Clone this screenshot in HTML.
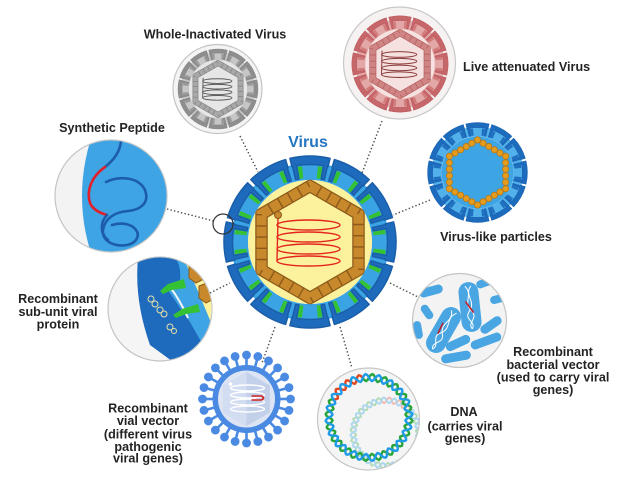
<!DOCTYPE html>
<html><head><meta charset="utf-8"><style>
html,body{margin:0;padding:0;background:#fff;}
svg{display:block;}
text{font-family:"Liberation Sans",Arial,sans-serif;font-weight:bold;font-size:12.6px;fill:#232323;}
</style></head><body>
<svg width="633" height="486" viewBox="0 0 633 486" xmlns="http://www.w3.org/2000/svg">
<defs>
<path id="capu" d="M-20.08,-83.62 L-18.09,-75.36 L-17.44,-75.52 L-14.40,-62.36 L-11.11,-63.03 L-13.46,-76.32 A77.5,77.5 0 0 1 13.46,-76.32 L11.11,-63.03 L14.40,-62.36 L17.44,-75.52 L18.09,-75.36 L20.08,-83.62 A86,86 0 0 0 -20.08,-83.62 Z"/>
<g id="greenu"><polygon points="6.7,-63.6 10.3,-63.1 12.4,-75.0 7.9,-75.6"/><polygon points="-6.7,-63.6 -10.3,-63.1 -12.4,-75.0 -7.9,-75.6"/></g>
<g id="caps">
<use href="#capu"/><use href="#capu" transform="rotate(30)"/><use href="#capu" transform="rotate(60)"/><use href="#capu" transform="rotate(90)"/>
<use href="#capu" transform="rotate(120)"/><use href="#capu" transform="rotate(150)"/><use href="#capu" transform="rotate(180)"/><use href="#capu" transform="rotate(210)"/>
<use href="#capu" transform="rotate(240)"/><use href="#capu" transform="rotate(270)"/><use href="#capu" transform="rotate(300)"/><use href="#capu" transform="rotate(330)"/>
</g>
<g id="greens">
<use href="#greenu"/><use href="#greenu" transform="rotate(30)"/><use href="#greenu" transform="rotate(60)"/><use href="#greenu" transform="rotate(90)"/>
<use href="#greenu" transform="rotate(120)"/><use href="#greenu" transform="rotate(150)"/><use href="#greenu" transform="rotate(180)"/><use href="#greenu" transform="rotate(210)"/>
<use href="#greenu" transform="rotate(240)"/><use href="#greenu" transform="rotate(270)"/><use href="#greenu" transform="rotate(300)"/><use href="#greenu" transform="rotate(330)"/>
</g>
<polygon id="hex" points="0,-56 48.5,-28 48.5,28 0,56 -48.5,28 -48.5,-28"/>
<g id="coil">
<ellipse cx="-1.5" cy="-17" rx="31.5" ry="5"/>
<ellipse cx="-1.5" cy="-5" rx="31.5" ry="5"/>
<ellipse cx="-1.5" cy="7" rx="31.5" ry="5"/>
<ellipse cx="-1.5" cy="19" rx="31.5" ry="5"/>
<path d="M-32,-24 L-33,19"/>
</g>
<g id="vsp"><rect x="-1.3" y="-42" width="2.6" height="9"/><circle cy="-44" r="4.4"/></g>
<polyline id="sa" points="-6.26,-39.51 -4.99,-42.18 -3.41,-43.37 -1.67,-42.44 0,-40 1.47,-37.50 2.86,-36.39 4.41,-37.27 6.26,-39.51"/>
<polyline id="sb" points="-6.26,-39.51 -4.41,-37.27 -2.86,-36.39 -1.47,-37.50 0,-40 1.67,-42.44 3.41,-43.37 4.99,-42.18 6.26,-39.51"/>
<g id="dna" fill="none" stroke-width="2.4" stroke-linejoin="round">
<g stroke="#27a53b">
<use href="#sb"/><use href="#sb" transform="rotate(18)"/><use href="#sb" transform="rotate(36)"/><use href="#sb" transform="rotate(54)"/><use href="#sb" transform="rotate(72)"/>
<use href="#sb" transform="rotate(90)"/><use href="#sb" transform="rotate(108)"/><use href="#sb" transform="rotate(126)"/><use href="#sb" transform="rotate(144)"/><use href="#sb" transform="rotate(162)"/>
<use href="#sb" transform="rotate(180)"/><use href="#sb" transform="rotate(198)"/><use href="#sb" transform="rotate(216)"/><use href="#sb" transform="rotate(234)"/><use href="#sb" transform="rotate(252)"/>
<use href="#sb" transform="rotate(270)"/><use href="#sb" transform="rotate(288)"/>
</g>
<g stroke="#e2471d"><use href="#sb" transform="rotate(306)"/><use href="#sb" transform="rotate(324)"/><use href="#sb" transform="rotate(342)"/></g>
<g stroke="#1e9ae6">
<use href="#sa"/><use href="#sa" transform="rotate(18)"/><use href="#sa" transform="rotate(36)"/><use href="#sa" transform="rotate(54)"/><use href="#sa" transform="rotate(72)"/>
<use href="#sa" transform="rotate(90)"/><use href="#sa" transform="rotate(108)"/><use href="#sa" transform="rotate(126)"/><use href="#sa" transform="rotate(144)"/><use href="#sa" transform="rotate(162)"/>
<use href="#sa" transform="rotate(180)"/><use href="#sa" transform="rotate(198)"/><use href="#sa" transform="rotate(216)"/><use href="#sa" transform="rotate(234)"/><use href="#sa" transform="rotate(252)"/>
<use href="#sa" transform="rotate(270)"/><use href="#sa" transform="rotate(288)"/><use href="#sa" transform="rotate(306)"/><use href="#sa" transform="rotate(324)"/><use href="#sa" transform="rotate(342)"/>
</g>
</g>
<clipPath id="cpSyn"><circle cx="111" cy="196" r="55.5"/></clipPath>
<clipPath id="cpSub"><circle cx="160" cy="309" r="51.5"/></clipPath>
<clipPath id="cpBac"><circle cx="459.5" cy="320.5" r="46.5"/></clipPath>
<clipPath id="cpDna"><circle cx="368.5" cy="419" r="50.5"/></clipPath>
</defs>

<!-- connectors -->
<g stroke="#4a4a4a" stroke-width="1.4" stroke-dasharray="1.4 2.2" fill="none">
<line x1="240" y1="136" x2="258" y2="172"/>
<line x1="382" y1="121" x2="362" y2="173"/>
<line x1="167" y1="209" x2="214" y2="221"/>
<line x1="430" y1="200" x2="393" y2="215"/>
<line x1="210" y1="293" x2="230" y2="283"/>
<line x1="390" y1="283" x2="418" y2="297"/>
<line x1="275" y1="327" x2="262" y2="363"/>
<line x1="340" y1="327" x2="352" y2="368"/>
</g>

<!-- Whole-inactivated (gray) -->
<circle cx="217.5" cy="89" r="44.5" fill="#f4f4f4" stroke="#c4c4c4" stroke-width="1.2"/>
<g transform="translate(218,89) scale(0.465)">
<circle r="70.5" fill="none" stroke="#c6c6c6" stroke-width="17"/>
<circle r="62" fill="#e6e6e6"/>
<use href="#hex" fill="none" stroke="#7d7d7d" stroke-width="12.5" stroke-linejoin="round"/>
<use href="#hex" fill="none" stroke="#a8a8a8" stroke-width="10" stroke-dasharray="9.8 1.4"/>
<use href="#greens" fill="#9a9a9a"/>
<use href="#caps" fill="#8e8e8e" stroke="#828282"/>
<use href="#coil" fill="none" stroke="#5a5a5a" stroke-width="2"/>
</g>

<!-- Live attenuated (red) -->
<circle cx="399.5" cy="63" r="56" fill="#f6f2f2" stroke="#c8c8c8" stroke-width="1.2"/>
<g transform="translate(400,64) scale(0.56)">
<circle r="70.5" fill="none" stroke="#e3a7a7" stroke-width="17"/>
<circle r="62" fill="#f6e1e1"/>
<use href="#hex" fill="none" stroke="#b45f5f" stroke-width="12.5" stroke-linejoin="round"/>
<use href="#hex" fill="none" stroke="#d08585" stroke-width="10" stroke-dasharray="9.8 1.4"/>
<use href="#greens" fill="#d27b7b"/>
<use href="#caps" fill="#c7666a" stroke="#bb5c60"/>
<use href="#coil" fill="none" stroke="#8b3b3b" stroke-width="1.8"/>
</g>

<!-- VLP -->
<g transform="translate(477.5,172.5) scale(0.58)">
<circle r="70.5" fill="none" stroke="#52b0ea" stroke-width="17"/>
<circle r="62" fill="#3ea5e5"/>
<use href="#greens" fill="#1f6fc0"/>
<use href="#caps" fill="#1c6bbd" stroke="#1a62b0"/>
<use href="#hex" fill="#3ea5e5" stroke="#b87410" stroke-width="12" stroke-linecap="round" stroke-dasharray="0 11.2"/>
<use href="#hex" fill="none" stroke="#e39c1e" stroke-width="9.5" stroke-linecap="round" stroke-dasharray="0 11.2"/>
</g>

<!-- Synthetic peptide -->
<circle cx="111" cy="196" r="56" fill="#f3f3f3" stroke="#c4c4c4" stroke-width="1.2"/>
<g clip-path="url(#cpSyn)">
<circle cx="268" cy="196" r="186" fill="#3ea4e4"/>
<g fill="none" stroke-width="2.6" stroke-linecap="round">
<path d="M121,141 C120,152 114,160 105,167" stroke="#1d5ca8"/>
<path d="M105,167 C92,176 86,190 90,203 C93,210 100,213 107,215" stroke="#e0202a"/>
<path d="M107,215 C100,222 100,234 108,240" stroke="#1d5ca8"/>
<path d="M106,182 C118,176 138,176 145,190 C150,203 140,210 128,211 C115,212 105,218 103,230 C102,242 115,247 127,245 C137,243 140,235 136,230 C132,224 122,222 112,225" stroke="#1d5ca8"/>
</g>
</g>

<!-- Sub-unit -->
<circle cx="160" cy="309" r="52" fill="#f5f5f5" stroke="#c4c4c4" stroke-width="1.2"/>
<g clip-path="url(#cpSub)">
<path d="M150,250 L186,250 Q200,290 216,330 L214,368 L186,368 Z" fill="#3ea4e4"/>
<path d="M180,250 L220,250 L220,330 L214,330 Q198,290 180,250 Z" fill="#fcf29d"/>
<polygon points="189,266 197,263 204,268 204,279 196,283 189,278" fill="#c8882c" stroke="#8b5a1a"/>
<polygon points="199,286 207,283 214,288 214,299 206,303 199,298" fill="#c8882c" stroke="#8b5a1a"/>
<path d="M138,258 L170,252 Q182,262 180,280 L168,290 Q178,305 190,322 L203,345 Q198,362 176,364 L150,345 Q134,300 138,258 Z" fill="#1e6bbd"/>
<path d="M170,287 Q180,300 188,318" stroke="#f5f5f5" stroke-width="2" fill="none"/>
<path d="M184,279 L168,284 L160,291 L163,294 L172,290 L186,288 Z" fill="#34c234"/>
<path d="M198,304 L182,309 L173,315 L176,318 L186,314 L200,312 Z" fill="#34c234"/>
<g fill="none" stroke="#e9e2a8" stroke-width="1">
<circle cx="151" cy="299" r="3"/><circle cx="155" cy="304" r="3"/><circle cx="160" cy="310" r="3"/>
<circle cx="164" cy="314" r="3"/><circle cx="170" cy="327" r="3"/><circle cx="174" cy="331" r="2.5"/>
</g>
</g>

<!-- Bacterial vector -->
<circle cx="459.5" cy="320.5" r="47" fill="#f3f3f3" stroke="#c4c4c4" stroke-width="1.2"/>
<g clip-path="url(#cpBac)" fill="#4aa6e2">
<rect x="419" y="286.5" width="24" height="9" rx="4.5" transform="rotate(-15 431 291)"/>
<rect x="476" y="279" width="16" height="8" rx="4" transform="rotate(-20 484 283)"/>
<rect x="490" y="295" width="16" height="8" rx="4" transform="rotate(-15 498 299)"/>
<rect x="419" y="308" width="16" height="8" rx="4" transform="rotate(55 427 312)"/>
<rect x="479" y="320.5" width="24" height="9" rx="4.5" transform="rotate(-35 491 325)"/>
<rect x="445" y="338.5" width="26" height="9" rx="4.5" transform="rotate(-25 458 343)"/>
<rect x="470" y="336.5" width="32" height="9" rx="4.5" transform="rotate(-20 486 341)"/>
<rect x="441" y="352.5" width="30" height="9" rx="4.5" transform="rotate(-10 456 357)"/>
<rect x="409" y="326" width="18" height="8" rx="4" transform="rotate(80 418 330)"/>
<g transform="translate(470,307) rotate(-6)">
<rect x="-10" y="-25" width="20" height="50" rx="10"/>
<path d="M-3,-21 C5,-12 -7,-5 1,4 C8,12 -5,15 0,22 M3,-21 C-5,-12 7,-5 -1,4 C-8,12 5,15 0,22" stroke="#fff" stroke-width="1" fill="none"/>
<path d="M-4,-6 L3,6" stroke="#c0202a" stroke-width="1.6"/>
</g>
<g transform="translate(443.5,330) rotate(30)">
<rect x="-10" y="-25" width="20" height="50" rx="10"/>
<path d="M-3,-21 C5,-12 -7,-5 1,4 C8,12 -5,15 0,22 M3,-21 C-5,-12 7,-5 -1,4 C-8,12 5,15 0,22" stroke="#fff" stroke-width="1" fill="none"/>
<path d="M-4,-6 L-3,6" stroke="#c0202a" stroke-width="1.6"/>
</g>
</g>

<!-- DNA -->
<circle cx="368.5" cy="419" r="51" fill="#f5f5f5" stroke="#c6c6c6" stroke-width="1.2"/>
<g clip-path="url(#cpDna)">
<use href="#dna" transform="translate(386,433) rotate(55) scale(0.82)" opacity="0.32"/>
<use href="#dna" transform="translate(369,417.5)"/>
</g>

<!-- Viral vector -->
<g transform="translate(246.5,399)">
<g fill="#4b8ae3">
<use href="#vsp"/><use href="#vsp" transform="rotate(15)"/><use href="#vsp" transform="rotate(30)"/><use href="#vsp" transform="rotate(45)"/>
<use href="#vsp" transform="rotate(60)"/><use href="#vsp" transform="rotate(75)"/><use href="#vsp" transform="rotate(90)"/><use href="#vsp" transform="rotate(105)"/>
<use href="#vsp" transform="rotate(120)"/><use href="#vsp" transform="rotate(135)"/><use href="#vsp" transform="rotate(150)"/><use href="#vsp" transform="rotate(165)"/>
<use href="#vsp" transform="rotate(180)"/><use href="#vsp" transform="rotate(195)"/><use href="#vsp" transform="rotate(210)"/><use href="#vsp" transform="rotate(225)"/>
<use href="#vsp" transform="rotate(240)"/><use href="#vsp" transform="rotate(255)"/><use href="#vsp" transform="rotate(270)"/><use href="#vsp" transform="rotate(285)"/>
<use href="#vsp" transform="rotate(300)"/><use href="#vsp" transform="rotate(315)"/><use href="#vsp" transform="rotate(330)"/><use href="#vsp" transform="rotate(345)"/>
</g>
<circle r="34" fill="#4b8ae3"/>
<circle r="28.5" fill="#dde5f4"/>
<polygon points="0,-27 23.4,-13.5 23.4,13.5 0,27 -23.4,13.5 -23.4,-13.5" fill="#c3d0ea"/>
<polygon points="0,-27 0,27 -23.4,13.5 -23.4,-13.5" fill="#d3ddf1"/>
<g fill="none" stroke="#fff" stroke-width="1.4">
<ellipse cx="1" cy="-11" rx="17" ry="3"/><ellipse cx="1" cy="-4" rx="17" ry="3"/>
<ellipse cx="1" cy="3" rx="17" ry="3"/><ellipse cx="1" cy="10" rx="17" ry="3"/>
</g>
<circle cx="-16" cy="-15" r="1.8" fill="#fff"/>
<path d="M5,-3 L15,-3 Q19,-1 15,1 L5,1" fill="none" stroke="#d01f1f" stroke-width="1.6"/>
</g>

<!-- Main virus -->
<g transform="translate(310,242)">
<circle r="70.5" fill="none" stroke="#3aa3e3" stroke-width="17"/>
<circle r="62" fill="#fcf29d"/>
<use href="#hex" fill="none" stroke="#8b5a1a" stroke-width="12.5" stroke-linejoin="round"/>
<use href="#hex" fill="none" stroke="#c8882c" stroke-width="10" stroke-dasharray="9.8 1.4"/>
<use href="#greens" fill="#34c234"/>
<use href="#caps" fill="#1e6bbd" stroke="#1a5ea8" stroke-width="1.5" stroke-linejoin="round"/>
<use href="#coil" fill="none" stroke="#e3261e" stroke-width="1.4"/>
<circle cx="-32" cy="-27" r="3.5" fill="#c8882c" stroke="#8b5a1a"/>
</g>
<circle cx="223" cy="224" r="10" fill="none" stroke="#333" stroke-width="1.2"/>

<!-- Labels -->
<text x="215" y="38.5" text-anchor="middle">Whole-Inactivated Virus</text>
<text x="463" y="71">Live attenuated Virus</text>
<text x="112" y="132" text-anchor="middle">Synthetic Peptide</text>
<text x="308" y="147" text-anchor="middle" style="font-size:16px;fill:#2376c2">Virus</text>
<text x="496" y="241" text-anchor="middle">Virus-like particles</text>
<text x="58" y="303" text-anchor="middle">Recombinant</text>
<text x="58" y="316" text-anchor="middle">sub-unit viral</text>
<text x="58" y="328.5" text-anchor="middle">protein</text>
<text x="553" y="356" text-anchor="middle">Recombinant</text>
<text x="553" y="369" text-anchor="middle">bacterial vector</text>
<text x="553" y="381.5" text-anchor="middle">(used to carry viral</text>
<text x="553" y="394" text-anchor="middle">genes)</text>
<text x="148" y="412.5" text-anchor="middle">Recombinant</text>
<text x="148" y="425" text-anchor="middle">vial vector</text>
<text x="148" y="438.5" text-anchor="middle">(different virus</text>
<text x="148" y="451" text-anchor="middle">pathogenic</text>
<text x="148" y="462.5" text-anchor="middle">viral genes)</text>
<text x="464" y="416" text-anchor="middle">DNA</text>
<text x="465" y="430.5" text-anchor="middle">(carries viral</text>
<text x="465" y="442.5" text-anchor="middle">genes)</text>
</svg>
</body></html>
